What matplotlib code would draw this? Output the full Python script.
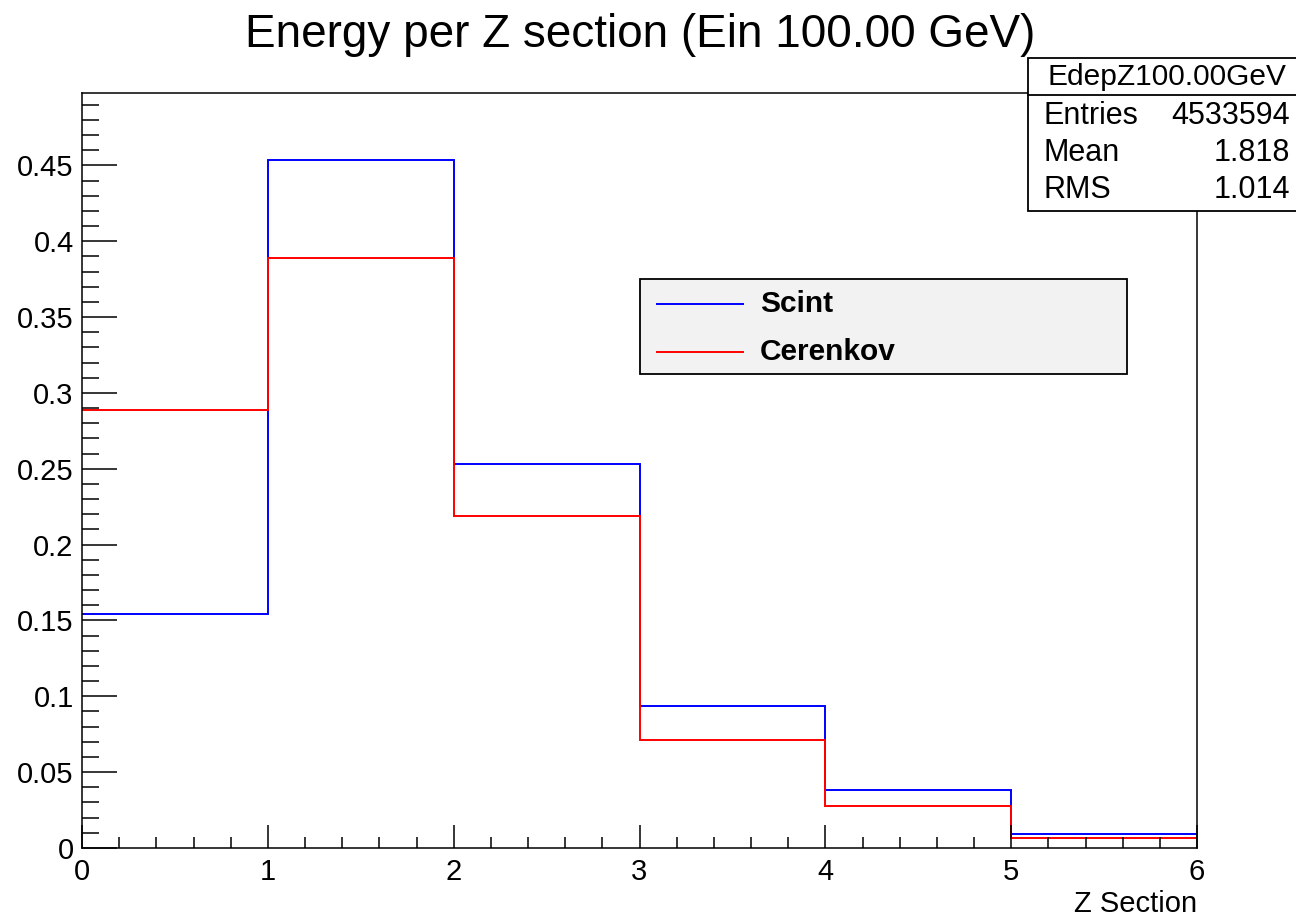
import matplotlib
matplotlib.use("Agg")
import matplotlib.pyplot as plt
from matplotlib.patches import Rectangle
from matplotlib.lines import Line2D
from matplotlib.ticker import MultipleLocator

plt.rcParams["font.family"] = ["Liberation Sans", "DejaVu Sans"]

# ── Datos ────────────────────────────────────────────────────────────────────
z_edges = [0, 1, 2, 3, 4, 5, 6]
scint = [0.1542, 0.4533, 0.2530, 0.0936, 0.0382, 0.0092]
cerenkov = [0.2886, 0.3887, 0.2187, 0.0712, 0.0277, 0.0066]
series_labels = ["Scint", "Cerenkov"]
series_colors = ["#0000ff", "#ff0000"]
stats_name = "EdepZ100.00GeV"
stats_rows = [("Entries", "4533594"), ("Mean", "1.818"), ("RMS", "1.014")]

W, H = 1296, 916
PX = 0.72  # puntos por pixel a 100 dpi
fig = plt.figure(figsize=(W / 100, H / 100), dpi=100)
ax = fig.add_axes([82 / W, 1 - 848 / H, (1197 - 82) / W, (848 - 93) / H])

for vals, col in zip([scint, cerenkov], series_colors):
    ax.stairs(vals, z_edges, baseline=None, color=col, linewidth=1.4)

ax.set_xlim(0, 6)
ax.set_ylim(0, 0.4977)
ax.xaxis.set_major_locator(MultipleLocator(1))
ax.xaxis.set_minor_locator(MultipleLocator(0.2))
ax.yaxis.set_major_locator(MultipleLocator(0.05))
ax.yaxis.set_minor_locator(MultipleLocator(0.01))
ax.yaxis.set_major_formatter(plt.FuncFormatter(lambda v, p: "0" if abs(v) < 1e-9 else f"{v:g}"))

for s in ax.spines.values():
    s.set_linewidth(1.1)
ax.tick_params(which="both", direction="in", top=False, right=False, width=1.1,
               labelsize=21, colors="black")
ax.tick_params(axis="y", which="major", length=35 * PX, pad=6)
ax.tick_params(axis="y", which="minor", length=17 * PX)
ax.tick_params(axis="x", which="major", length=23 * PX, pad=7)
ax.tick_params(axis="x", which="minor", length=11 * PX)

ax.text(1.0, -0.056, "Z Section", transform=ax.transAxes, ha="right", va="top",
        fontsize=21)

fig.text(640 / W, 1 - 35 / H, "Energy per Z section (Ein 100.00 GeV)",
         ha="center", va="center", fontsize=33)

# Leyenda
lx0, lx1 = (640 - 82) / 1115, (1127 - 82) / 1115
ly0, ly1 = (848 - 374) / 755, (848 - 279) / 755
ax.add_patch(Rectangle((lx0, ly0), lx1 - lx0, ly1 - ly0, transform=ax.transAxes,
                       facecolor="#f2f2f2", edgecolor="black", linewidth=1.3,
                       zorder=5))
for i, (lab, col) in enumerate(zip(series_labels, series_colors)):
    yy = (848 - (304 + 48 * i)) / 755
    ax.add_line(Line2D([(657 - 82) / 1115, (743 - 82) / 1115], [yy, yy],
                       transform=ax.transAxes, color=col, linewidth=1.4, zorder=6))
    ax.text((760 - 82) / 1115, yy, lab, transform=ax.transAxes, ha="left",
            va="center", fontsize=21.5, fontweight="bold", zorder=6)

# Caja de estadísticas
fig.patches.append(Rectangle((1028 / W, 1 - 211 / H), (1300 - 1028) / W, (211 - 58) / H,
                             transform=fig.transFigure, facecolor="white",
                             edgecolor="black", linewidth=1.3, zorder=10))
fig.lines.append(Line2D([1028 / W, 1], [1 - 95 / H, 1 - 95 / H],
                        transform=fig.transFigure, color="black", linewidth=1.3,
                        zorder=11))
fig.text(1167 / W, 1 - 77 / H, stats_name, ha="center", va="center", fontsize=21.5,
         zorder=12)
for i, (k, v) in enumerate(stats_rows):
    yy = 1 - (116 + 37 * i) / H
    fig.text(1043 / W, yy, k, ha="left", va="center", fontsize=22, zorder=12)
    fig.text(1290 / W, yy, v, ha="right", va="center", fontsize=22, zorder=12)

fig.savefig("out.png", dpi=100, facecolor="white")
